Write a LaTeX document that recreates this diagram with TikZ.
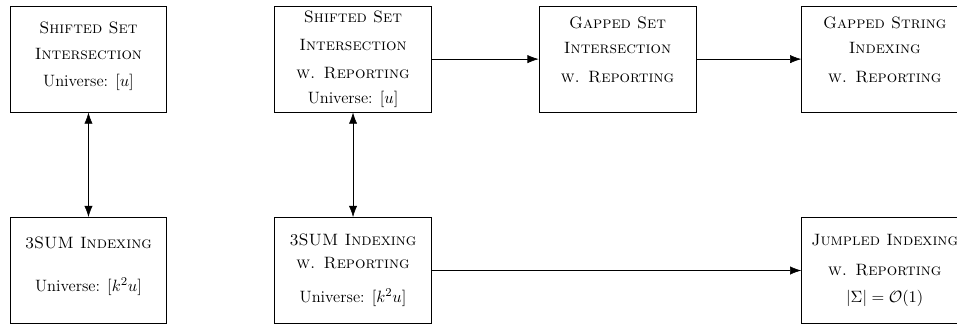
\documentclass[tikz,border=0pt]{standalone}
\usepackage{amsmath}
\usetikzlibrary{arrows.meta}

\begin{document}
\begin{tikzpicture}[
    every node/.style={font=\fontsize{11}{13.6}\selectfont},
    problem/.style={draw, semithick, align=center, minimum width=3.69cm, minimum height=2.49cm, inner sep=0pt},
    wide/.style={minimum width=3.9cm},
    reduce/.style={-{Latex[length=7.5pt,width=5.5pt]}},
    equiv/.style={{Latex[length=7.5pt,width=5.5pt]}-{Latex[length=7.5pt,width=5.5pt]}}
  ]
    \useasboundingbox (0,0) rectangle (22.5,7.69);

    % top row: set intersection problems
    \node[problem] (shiftSet) at (2.08,6.30) {\textsc{Shifted Set}\\[4.4pt]\textsc{Intersection}\\[4.4pt]Universe: $[u]$\\[-7pt]\mbox{}};
    \node[problem] (shiftRep) at (8.30,6.30) {\textsc{Shifted Set}\\[5.5pt]\textsc{Intersection}\\[5pt]\textsc{w. Reporting}\\[3pt]Universe: $[u]$};
    \node[problem] (gapSet) at (14.52,6.30) {\textsc{Gapped Set}\\[3.5pt]\textsc{Intersection}\\[5.5pt]\textsc{w. Reporting}\\[-1pt]\mbox{}};
    \node[problem, wide] (gapString) at (20.80,6.30) {\textsc{Gapped String}\\[3.5pt]\textsc{Indexing}\\[5.5pt]\textsc{w. Reporting}\\[-1pt]\mbox{}};

    % bottom row: indexing problems
    \node[problem] (sumIdx) at (2.08,1.33) {\textsc{3SUM Indexing}\\[15pt]Universe: $[k^2u]$\\[-5pt]\mbox{}};
    \node[problem] (sumRep) at (8.30,1.33) {\textsc{3SUM Indexing}\\[1.7pt]\textsc{w. Reporting}\\[9pt]Universe: $[k^2u]$};
    \node[problem, wide] (jumbled) at (20.80,1.33) {\textsc{Jumpled Indexing}\\[6.4pt]\textsc{w. Reporting}\\[4pt]$|\Sigma| = \mathcal{O}(1)$};

    % reductions
    \draw[equiv] (shiftSet) -- (sumIdx);
    \draw[equiv] (shiftRep) -- (sumRep);
    \draw[reduce] (shiftRep) -- (gapSet);
    \draw[reduce] (gapSet) -- (gapString);
    \draw[reduce] (sumRep) -- (jumbled);

  \end{tikzpicture}
\end{document}
